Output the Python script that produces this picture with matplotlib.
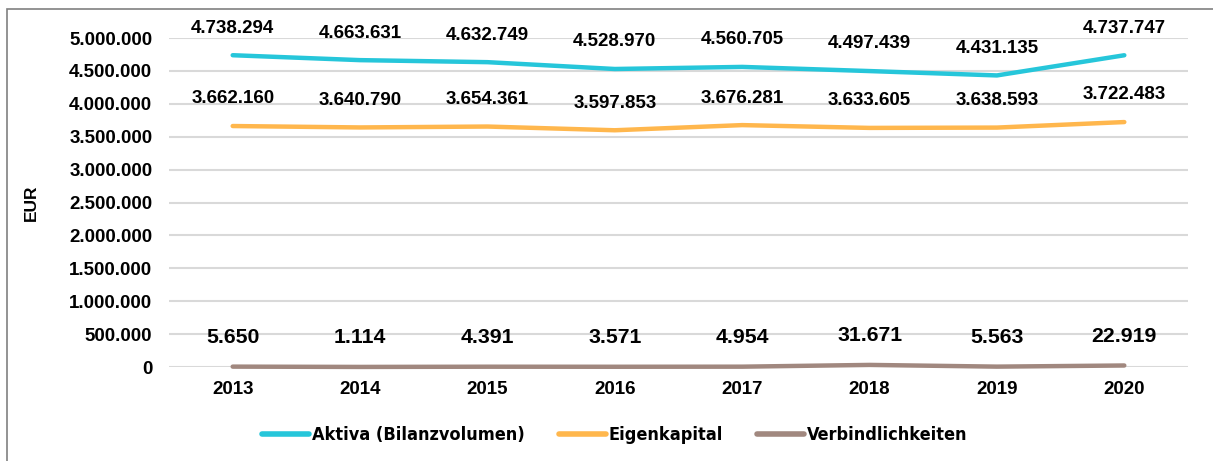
import matplotlib.pyplot as plt
from matplotlib.patches import Rectangle
from matplotlib.ticker import FuncFormatter
from matplotlib import font_manager

plt.rcParams['font.family'] = ['Liberation Sans', 'DejaVu Sans']
plt.rcParams['font.weight'] = 'bold'

# values (EUR)
years = ['2013', '2014', '2015', '2016', '2017', '2018', '2019', '2020']
aktiva = [4738294, 4663631, 4632749, 4528970, 4560705, 4497439, 4431135, 4737747]
eigenkapital = [3662160, 3640790, 3654361, 3597853, 3676281, 3633605, 3638593, 3722483]
verbindlichkeiten = [5650, 1114, 4391, 3571, 4954, 31671, 5563, 22919]

series = [
    ('Aktiva (Bilanzvolumen)', aktiva, '#26C6DA', 13.5, 19.5),
    ('Eigenkapital', eigenkapital, '#FFB74D', 13.5, 19.5),
    ('Verbindlichkeiten', verbindlichkeiten, '#A1887F', 15.3, 21),
]


def de_fmt(v, pos=None):
    return f'{int(round(v)):,}'.replace(',', '.')


# legend in the original uses a narrow face; look for one installed
narrow = None
for f in font_manager.fontManager.ttflist:
    n = f.name.lower()
    if ('narrow' in n or 'condensed' in n or str(f.stretch) in ('condensed', 'semi-condensed')) and f.weight in (700, 'bold'):
        narrow = f
        break
if narrow is not None:
    legend_prop = font_manager.FontProperties(fname=narrow.fname, size=13)
    leg_kw = dict(handlelength=2.6, handletextpad=0.15, columnspacing=1.9)
else:
    legend_prop = font_manager.FontProperties(family='Liberation Sans', weight='bold', size=10.5)
    leg_kw = dict(handlelength=3.2, handletextpad=0.2, columnspacing=2.0)

fig = plt.figure(figsize=(12.13, 4.61), dpi=100)
ax = fig.add_axes([169 / 1213, 1 - 367 / 461, (1188 - 169) / 1213, (367 - 38) / 461])

x = range(len(years))
for name, vals, color, fs, off in series:
    ax.plot(x, vals, color=color, lw=3.2, solid_capstyle='round', label=name, clip_on=False, zorder=3)
    for xi, v in zip(x, vals):
        ax.annotate(de_fmt(v), (xi, v), xytext=(0, off), textcoords='offset points',
                    ha='center', va='center', fontsize=fs, fontweight='bold', annotation_clip=False)

ax.set_xlim(-0.5, len(years) - 0.5)
ax.set_ylim(0, 5000000)
ax.set_yticks(range(0, 5000001, 500000))
ax.yaxis.set_major_formatter(FuncFormatter(de_fmt))
ax.set_xticks(list(x))
ax.set_xticklabels(years)
ax.tick_params(axis='both', length=0, labelsize=13.5)
ax.tick_params(axis='y', pad=12)
ax.tick_params(axis='x', pad=10)
ax.grid(axis='y', color='#d9d9d9', lw=1.5)
ax.set_axisbelow(True)
for s in ax.spines.values():
    s.set_visible(False)
ax.set_ylabel('EUR', fontsize=12.5, fontweight='bold')
ax.yaxis.set_label_coords(-0.128, 0.5)

leg = fig.legend(loc='center', bbox_to_anchor=(615 / 1213, 1 - 435 / 461), ncol=3, frameon=False,
                 prop=legend_prop, **leg_kw)
for line in leg.get_lines():
    line.set_linewidth(4)

# outer frame (left and top edges visible)
fig.patches.append(Rectangle((7 / 1213, -0.1), 1.2, 1 - 9 / 461 + 0.1, transform=fig.transFigure,
                             fill=False, edgecolor='#808080', lw=1.2))

fig.savefig('out.png', dpi=100)
